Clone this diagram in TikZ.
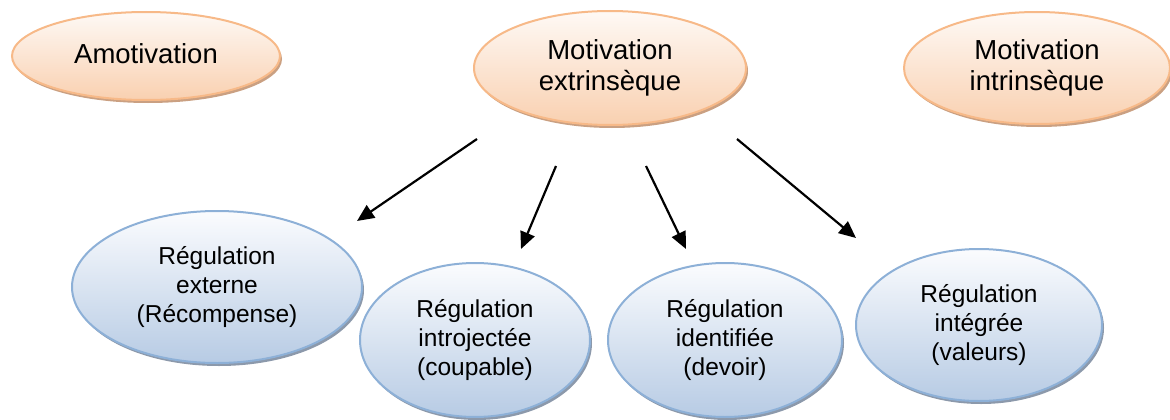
\documentclass[tikz,border=0pt]{standalone}
\usepackage{fontspec}
\setmainfont{Liberation Sans}
\usetikzlibrary{shapes.geometric,shadows,arrows.meta}
\definecolor{obord}{RGB}{247,185,136}
\definecolor{otop}{RGB}{254,249,245}
\definecolor{obot}{RGB}{249,208,176}
\definecolor{oshad}{RGB}{196,150,116}
\definecolor{bbord}{RGB}{141,176,215}
\definecolor{btop}{RGB}{251,252,254}
\definecolor{bbot}{RGB}{183,203,228}
\definecolor{bshad}{RGB}{128,142,162}
\tikzset{
  oell/.style={ellipse, draw=obord, line width=2pt, top color=otop, bottom color=obot,
    inner sep=0pt, align=center, font=\fontsize{27.5}{31}\selectfont,
    drop shadow={shadow xshift=2pt, shadow yshift=-3pt, fill=oshad, opacity=0.9}},
  bell/.style={ellipse, draw=bbord, line width=2pt, top color=btop, bottom color=bbot,
    inner sep=0pt, align=center, font=\fontsize{24.5}{29}\selectfont,
    drop shadow={shadow xshift=2pt, shadow yshift=-3pt, fill=bshad, opacity=0.9}},
  arr/.style={line width=2.2pt, -{Triangle[length=17pt,width=15pt]}}
}
\begin{document}
\begin{tikzpicture}[x=1pt,y=-1pt]
\useasboundingbox (0,0) rectangle (1170,420);
\node[oell, minimum width=268pt, minimum height=88pt] (amo) at (146,56) {\raisebox{5pt}{Amotivation}};
\node[oell, minimum width=272pt, minimum height=114pt] (ext) at (610,68) {Motivation\\extrinsèque};
\node[oell, minimum width=266pt, minimum height=112pt] (intr) at (1037,68) {Motivation\\intrinsèque};
\node[bell, minimum width=290pt, minimum height=152pt] (rext) at (217,287) {Régulation\\externe\\(Récompense)};
\node[bell, minimum width=230pt, minimum height=154pt] (rintro) at (475,340) {Régulation\\introjectée\\(coupable)};
\node[bell, minimum width=234pt, minimum height=154pt] (rident) at (725,340) {Régulation\\identifiée\\(devoir)};
\node[bell, minimum width=246pt, minimum height=152pt] (rinteg) at (979,325) {Régulation\\intégrée\\(valeurs)};
\coordinate (s1) at (477,139);
\coordinate (e1) at (357,221);
\coordinate (s2) at (556,166);
\coordinate (e2) at (521,249);
\coordinate (s3) at (646,166);
\coordinate (e3) at (686,249);
\coordinate (s4) at (737,139);
\coordinate (e4) at (856,238);
\draw[arr] (s1) -- (e1);
\draw[arr] (s2) -- (e2);
\draw[arr] (s3) -- (e3);
\draw[arr] (s4) -- (e4);
\end{tikzpicture}
\end{document}
